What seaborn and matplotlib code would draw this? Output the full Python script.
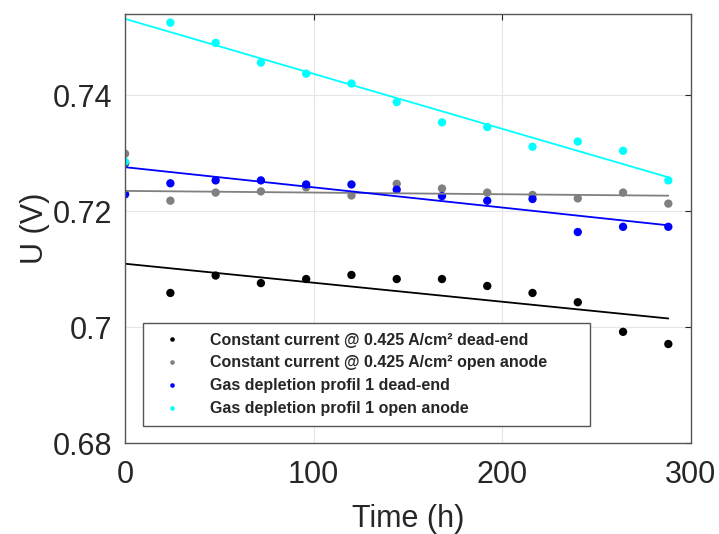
import numpy as np
import pandas as pd
import matplotlib
matplotlib.use("Agg")
import matplotlib.pyplot as plt
import seaborn as sns

time_h = [0, 24, 48, 72, 96, 120, 144, 168, 192, 216, 240, 264, 288]
cc_dead_end = [0.7283, 0.7059, 0.7089, 0.7076, 0.7083, 0.7090, 0.7083, 0.7083,
               0.7071, 0.7059, 0.7043, 0.6992, 0.6971]
cc_open_anode = [0.7299, 0.7218, 0.7232, 0.7234, 0.7241, 0.7227, 0.7247, 0.7239,
                 0.7232, 0.7228, 0.7222, 0.7232, 0.7213]
gd_dead_end = [0.7229, 0.7248, 0.7253, 0.7253, 0.7246, 0.7246, 0.7237, 0.7226,
               0.7218, 0.7221, 0.7164, 0.7173, 0.7173]
gd_open_anode = [0.7285, 0.7525, 0.7490, 0.7456, 0.7437, 0.7420, 0.7388, 0.7353,
                 0.7345, 0.7311, 0.7320, 0.7304, 0.7253]

labels = ["Constant current @ 0.425 A/cm² dead-end",
          "Constant current @ 0.425 A/cm² open anode",
          "Gas depletion profil 1 dead-end",
          "Gas depletion profil 1 open anode"]
colors = ["#000000", "#808080", "#0000FF", "#00FFFF"]
series = [cc_dead_end, cc_open_anode, gd_dead_end, gd_open_anode]

df = pd.concat([pd.DataFrame({"Time": time_h, "U": s, "Series": lab})
                for s, lab in zip(series, labels)], ignore_index=True)

# linear fit over the points after t=0
fits = []
for s, lab in zip(series, labels):
    p = np.polyfit(time_h[1:], s[1:], 1)
    xs = [time_h[0], time_h[-1]]
    fits.append(pd.DataFrame({"Time": xs, "U": np.polyval(p, xs), "Series": lab}))
fit_df = pd.concat(fits, ignore_index=True)

sns.set_style("white")
plt.rcParams["font.family"] = ["Liberation Sans", "DejaVu Sans"]

fig = plt.figure(figsize=(7.19, 5.34), dpi=100)
ax = fig.add_axes([0.174, 0.170, 0.787, 0.804])

pal = dict(zip(labels, colors))
sns.lineplot(data=fit_df, x="Time", y="U", hue="Series", palette=pal,
             linewidth=1.3, legend=False, ax=ax)
sns.scatterplot(data=df, x="Time", y="U", hue="Series", palette=pal,
                s=36, linewidth=0, ax=ax, legend=True)

ax.set_xlim(0, 300)
ax.set_ylim(0.68, 0.754)
ax.set_xticks([0, 100, 200, 300])
ax.set_yticks([0.68, 0.70, 0.72, 0.74])
ax.set_yticklabels(["0.68", "0.7", "0.72", "0.74"])
ax.grid(True, color="#e6e6e6", linewidth=0.8)
ax.tick_params(direction="in", length=4, labelsize=22, colors="#262626",
               top=True, right=True, width=0.8)
ax.tick_params(axis="x", pad=12)
ax.tick_params(axis="y", pad=9)
for sp in ax.spines.values():
    sp.set_color("#555555")
    sp.set_linewidth(1.0)
ax.set_xlabel("Time (h)", fontsize=22, color="#262626", labelpad=10)
ax.set_ylabel("U (V)", fontsize=22, color="#262626", labelpad=2)

handles, labs = ax.get_legend_handles_labels()
leg = ax.legend(handles, labs, loc="lower left",
                bbox_to_anchor=(0.032, 0.04, 0.79, 0.2), mode="expand",
                prop={"weight": "bold", "size": 11.5}, frameon=True,
                fancybox=False, framealpha=1, edgecolor="#555555",
                markerscale=0.55, handlelength=2.4, handletextpad=1.2,
                labelspacing=0.5, borderpad=0.6, borderaxespad=0)
leg.get_frame().set_linewidth(1.0)

fig.savefig("out.png", dpi=100)
